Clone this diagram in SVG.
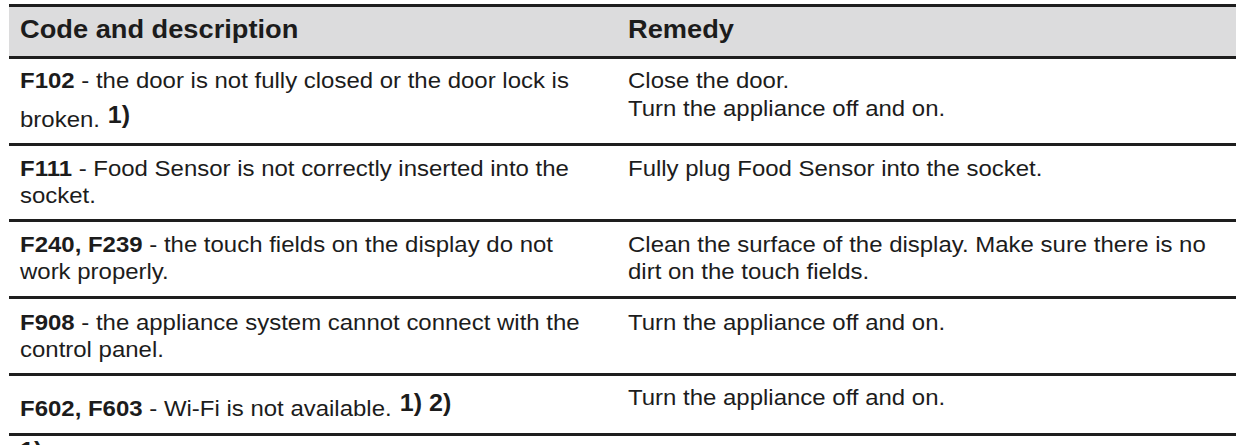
<svg xmlns="http://www.w3.org/2000/svg" width="1240" height="445" viewBox="0 0 1240 445">
  <style>
    .t { font-family: "Liberation Sans", Arial, sans-serif; font-size: 22px; fill: #1c1c1c; }
    .h { font-family: "Liberation Sans", Arial, sans-serif; font-size: 25px; font-weight: bold; fill: #1c1c1c; }
    .b { font-weight: bold; }
    .sup { font-family: "Liberation Sans", Arial, sans-serif; font-size: 23px; font-weight: bold; fill: #1c1c1c; }
    .rule { fill: #1e1e1e; }
  </style>
  <rect width="1240" height="445" fill="#ffffff"/>

  <g id="header">
    <rect x="9" y="7" width="1227" height="49" fill="#dcdcdd"/>
    <g transform="translate(20,0) scale(1.09,1)">
      <text class="h" x="0" y="38">Code and description</text>
    </g>
    <g transform="translate(628,0) scale(1.09,1)">
      <text class="h" x="0" y="38">Remedy</text>
    </g>
  </g>

  <g id="rules">
    <rect class="rule" x="9" y="4" width="1227" height="3"/>
    <rect class="rule" x="9" y="56" width="1227" height="3"/>
    <rect class="rule" x="9" y="143" width="1227" height="3"/>
    <rect class="rule" x="9" y="219" width="1227" height="3"/>
    <rect class="rule" x="9" y="296" width="1227" height="3"/>
    <rect class="rule" x="9" y="373" width="1227" height="3"/>
    <rect class="rule" x="9" y="433" width="1227" height="3"/>
  </g>

  <g id="row-f102">
    <g transform="translate(20,0) scale(1.09,1)">
      <text class="t" x="0" y="88"><tspan class="b">F102</tspan> - the door is not fully closed or the door lock is</text>
      <text class="t" x="0" y="127">broken.</text>
      <text class="sup" x="80.5" y="123">1)</text>
    </g>
    <g transform="translate(628,0) scale(1.09,1)">
      <text class="t" x="0" y="88">Close the door.</text>
      <text class="t" x="0" y="116">Turn the appliance off and on.</text>
    </g>
  </g>

  <g id="row-f111">
    <g transform="translate(20,0) scale(1.09,1)">
      <text class="t" x="0" y="176"><tspan class="b">F111</tspan> - Food Sensor is not correctly inserted into the</text>
      <text class="t" x="0" y="203">socket.</text>
    </g>
    <g transform="translate(628,0) scale(1.09,1)">
      <text class="t" x="0" y="176">Fully plug Food Sensor into the socket.</text>
    </g>
  </g>

  <g id="row-f240">
    <g transform="translate(20,0) scale(1.09,1)">
      <text class="t" x="0" y="252"><tspan class="b">F240, F239</tspan> - the touch fields on the display do not</text>
      <text class="t" x="0" y="279">work properly.</text>
    </g>
    <g transform="translate(628,0) scale(1.09,1)">
      <text class="t" x="0" y="252">Clean the surface of the display. Make sure there is no</text>
      <text class="t" x="0" y="279">dirt on the touch fields.</text>
    </g>
  </g>

  <g id="row-f908">
    <g transform="translate(20,0) scale(1.09,1)">
      <text class="t" x="0" y="330"><tspan class="b">F908</tspan> - the appliance system cannot connect with the</text>
      <text class="t" x="0" y="357">control panel.</text>
    </g>
    <g transform="translate(628,0) scale(1.09,1)">
      <text class="t" x="0" y="330">Turn the appliance off and on.</text>
    </g>
  </g>

  <g id="row-f602">
    <g transform="translate(20,0) scale(1.09,1)">
      <text class="t" x="0" y="416"><tspan class="b">F602, F603</tspan> - Wi-Fi is not available.</text>
      <text class="sup" x="348.5" y="411">1) 2)</text>
    </g>
    <g transform="translate(628,0) scale(1.09,1)">
      <text class="t" x="0" y="405">Turn the appliance off and on.</text>
    </g>
  </g>

  <g id="footnote">
    <g transform="translate(20,0) scale(1.09,1)">
      <text class="sup" x="0" y="459">1)</text>
    </g>
  </g>
</svg>
